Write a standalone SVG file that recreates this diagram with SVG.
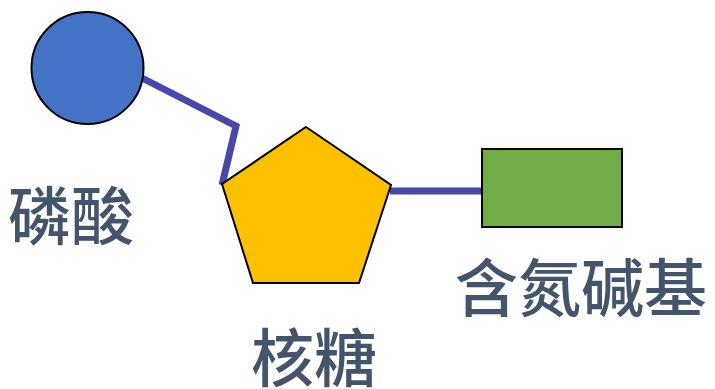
<svg xmlns="http://www.w3.org/2000/svg" width="715" height="389" viewBox="0 0 715 389">
<style>
.lbl{font-family:"Noto Sans CJK SC","Noto Sans CJK TC",sans-serif;font-size:63px;font-weight:500;fill:#44546A;}
.edge{fill:none;stroke:#4748A8;stroke-width:7;stroke-linejoin:miter;}
.shape{stroke:#000;stroke-width:2;}
</style>
<rect width="715" height="389" fill="#fff"/>
<g id="connectors">
<polyline class="edge" points="142,78 236,126 222,185"/>
<line class="edge" x1="390" y1="191" x2="483" y2="191"/>
</g>
<g id="phosphate">
<circle class="shape" cx="87.5" cy="68" r="56" fill="#4472C4"/>
<text class="lbl" x="8" y="239">磷酸</text>
</g>
<g id="ribose">
<polygon class="shape" points="306,127 391,185 359,283 253,283 222,184" fill="#FFC000"/>
<text class="lbl" x="251" y="381">核糖</text>
</g>
<g id="base">
<rect class="shape" x="482" y="149" width="140" height="78" fill="#70AD47"/>
<text class="lbl" x="455" y="311">含氮碱基</text>
</g>
</svg>
